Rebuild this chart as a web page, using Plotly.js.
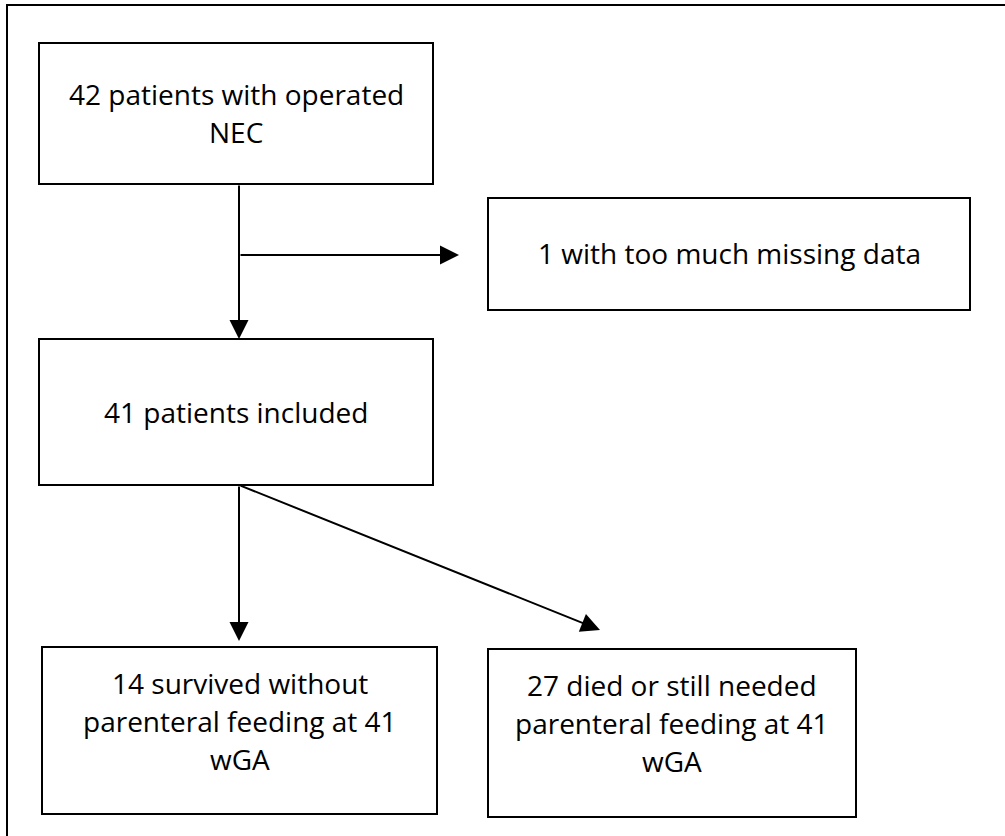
<!DOCTYPE html>
<html>
<head>
<meta charset="utf-8">
<script src="https://cdn.plot.ly/plotly-3.0.1.min.js"></script>
<style>html,body{margin:0;padding:0;background:#fff;}#chart{width:1005px;height:836px;}</style>
</head>
<body>
<div id="chart"></div>
<script>
// Flowchart content: one entry per box, lines of text per box
const boxLabels = [
  ["42 patients with operated", "NEC"],
  ["1 with too much missing data"],
  ["41 patients included"],
  ["14 survived without", "parenteral feeding at 41", "wGA"],
  ["27 died or still needed", "parenteral feeding at 41", "wGA"]
];
const boxCounts = [42, 1, 41, 14, 27];

// Layout geometry (pixel space of the figure)
const boxX0 = [39, 488, 39, 42, 488];
const boxX1 = [433, 970, 433, 437, 856];
const boxY0 = [43, 198, 339, 647, 649];
const boxY1 = [184, 310, 485, 814, 817];
const textY0 = [96, 255, 414, 685, 687];   // centre of first text line
const lineGap = 38;

// Connectors: [tailX, tailY, tipX, tipY]
const links = [
  [239, 184, 239, 339],
  [239, 255, 459, 255],
  [239, 485, 239, 641],
  [239, 485, 600, 630]
];

const shapes = [];
// outer frame (only top and left edges visible)
shapes.push({type:'rect', xref:'x', yref:'y', x0:7, y0:5, x1:1030, y1:860,
  line:{color:'#000', width:2}, fillcolor:'rgba(0,0,0,0)'});
for (let i = 0; i < boxLabels.length; i++) {
  shapes.push({type:'rect', xref:'x', yref:'y', x0:boxX0[i], x1:boxX1[i], y0:boxY0[i], y1:boxY1[i],
    line:{color:'#000', width:2}, fillcolor:'#fff'});
}

const annotations = [];
for (let i = 0; i < boxLabels.length; i++) {
  boxLabels[i].forEach((line, j) => {
    annotations.push({
      x:(boxX0[i]+boxX1[i])/2, y:textY0[i] + j*lineGap - 2, xref:'x', yref:'y',
      xanchor:'center', yanchor:'middle',
      text: line, showarrow:false, align:'center',
      font:{family:'Open Sans, sans-serif', size:28, color:'#000'}
    });
  });
}
for (const l of links) {
  annotations.push({
    x:l[2], y:l[3], ax:l[0], ay:l[1], xref:'x', yref:'y', axref:'x', ayref:'y',
    text:'', showarrow:true, arrowhead:2, arrowsize:1.9, arrowwidth:2, arrowcolor:'#000', standoff:0, startstandoff:0
  });
}

const layout = {
  width:1005, height:836,
  margin:{l:0, r:0, t:0, b:0},
  paper_bgcolor:'#fff', plot_bgcolor:'#fff',
  showlegend:false,
  xaxis:{range:[0,1005], visible:false, fixedrange:true},
  yaxis:{range:[836,0], visible:false, fixedrange:true},
  shapes: shapes,
  annotations: annotations
};

Plotly.newPlot('chart', [{x:[], y:[], type:'scatter', mode:'markers', hoverinfo:'skip'}], layout, {staticPlot:true, displayModeBar:false});
</script>
</body>
</html>
